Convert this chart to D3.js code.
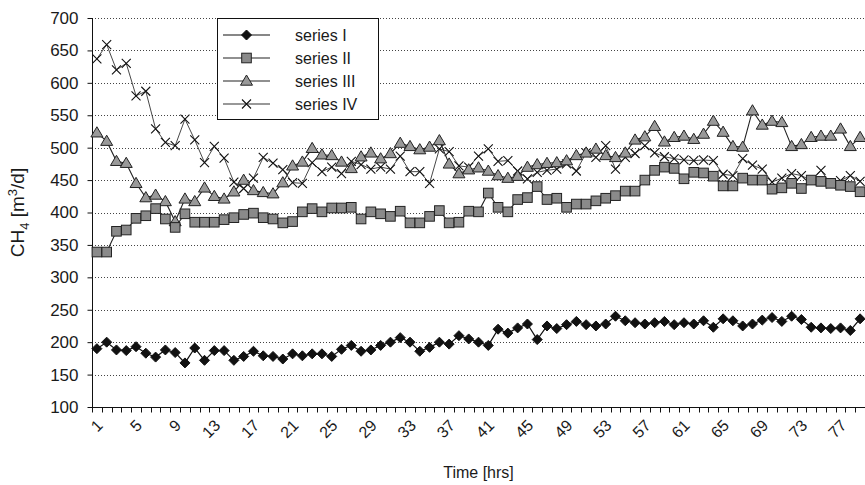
<!DOCTYPE html>
<html><head><meta charset="utf-8">
<script src="https://cdn.jsdelivr.net/npm/d3@7"></script>
<style>body{margin:0;background:#fff;} svg text{font-family:"Liberation Sans",Arial,Helvetica,sans-serif;fill:#1a1a1a;}</style>
</head><body><svg id="c" width="865" height="485"></svg>
<script>
const hours = [1,2,3,4,5,6,7,8,9,10,11,12,13,14,15,16,17,18,19,20,21,22,23,24,25,26,27,28,29,30,31,32,33,34,35,36,37,38,39,40,41,42,43,44,45,46,47,48,49,50,51,52,53,54,55,56,57,58,59,60,61,62,63,64,65,66,67,68,69,70,71,72,73,74,75,76,77,78,79];
const xTickLabels = [1,5,9,13,17,21,25,29,33,37,41,45,49,53,57,61,65,69,73,77];
const yTicks = [100,150,200,250,300,350,400,450,500,550,600,650,700];
const seriesNames = ["series I","series II","series III","series IV"];
const seriesI = [190,200,188,187,193,183,177,188,184,168,191,172,187,187,172,178,186,179,178,174,182,179,182,182,178,189,195,186,188,195,200,207,200,186,192,200,197,210,205,200,195,220,214,222,228,204,225,221,227,232,227,225,228,240,233,230,228,230,232,227,230,228,233,223,236,233,225,228,234,238,232,240,235,223,222,221,222,218,236];
const seriesII = [339,339,371,373,391,395,406,390,377,398,385,385,385,389,392,397,399,392,390,384,386,401,406,401,407,407,408,390,401,398,394,402,384,384,394,403,384,385,402,401,430,408,401,420,423,440,420,422,408,413,413,418,422,426,433,433,450,465,470,468,452,462,461,456,441,441,453,450,450,436,438,445,437,450,448,445,442,440,432];
const seriesIII = [523,510,479,476,445,423,427,417,386,421,417,438,425,421,432,450,434,431,429,446,472,478,499,489,488,478,468,486,492,483,491,507,502,497,501,511,475,460,466,469,464,457,453,456,470,474,476,477,480,488,492,498,488,485,492,512,517,533,509,516,518,513,521,541,524,502,501,557,535,541,539,502,505,516,518,518,529,502,516];
const seriesIV = [637,659,620,630,580,587,529,508,503,544,512,477,502,484,447,437,453,485,476,466,446,445,477,463,470,460,479,474,467,470,467,487,463,463,445,498,494,472,470,487,498,479,480,464,452,462,465,467,475,464,492,485,503,467,485,491,503,492,486,483,481,480,481,480,459,457,483,473,467,447,453,460,457,449,465,444,449,457,448];

const allSeries = [seriesI, seriesII, seriesIII, seriesIV];
const svg = d3.select("#c");
const M = {left:92, right:865, top:18, bottom:407};

const x = d3.scaleBand().domain(hours).range([M.left, M.right]).padding(0);
const y = d3.scaleLinear().domain([100,700]).range([M.bottom, M.top]);
const cx = h => x(h) + x.bandwidth()/2;

// gridlines
svg.append("g").selectAll("line").data(yTicks.filter(v => v > 100)).join("line")
  .attr("x1", M.left).attr("x2", M.right)
  .attr("y1", d => Math.round(y(d))+0.5).attr("y2", d => Math.round(y(d))+0.5)
  .attr("stroke", "#444").attr("stroke-width", 1).attr("stroke-dasharray", "1,2");

// y axis
const yAxis = svg.append("g").attr("transform", `translate(${M.left+0.5},0)`)
  .call(d3.axisLeft(y).tickValues(yTicks).tickSize(5).tickPadding(9));
yAxis.select(".domain").attr("stroke", "#111").attr("d", `M0,${M.top}V${M.bottom}`);
yAxis.selectAll(".tick line").attr("stroke", "#111");
yAxis.selectAll("text").style("font-size", "17px").attr("fill", "#1a1a1a");

// x axis
const xg = svg.append("g").attr("transform", `translate(0,${M.bottom+0.5})`);
xg.append("line").attr("x1", M.left).attr("x2", M.right).attr("stroke", "#111");
const boundaries = hours.map(h => x(h)).concat([x(hours[hours.length-1]) + x.bandwidth()]);
xg.selectAll("line.tk").data(boundaries).join("line").attr("class","tk")
  .attr("x1", d => Math.round(d)+0.5).attr("x2", d => Math.round(d)+0.5)
  .attr("y1", 0).attr("y2", 5).attr("stroke", "#111");
xg.selectAll("text").data(xTickLabels).join("text")
  .attr("transform", d => `translate(${cx(d)-1},${11}) rotate(-45)`)
  .attr("text-anchor", "end").attr("dy", "0.7em")
  .style("font-size", "16px").text(d => d);

// axis titles
svg.append("text").attr("x", (M.left+M.right)/2).attr("y", 478)
  .attr("text-anchor", "middle").style("font-size", "16px").text("Time [hrs]");
const yt = svg.append("text").attr("transform", `translate(24,${(M.top+M.bottom)/2}) rotate(-90)`)
  .attr("text-anchor", "middle").style("font-size", "19px");
yt.append("tspan").text("CH");
yt.append("tspan").attr("dy", 5).style("font-size", "13px").text("4");
yt.append("tspan").attr("dy", -5).text(" [m");
yt.append("tspan").attr("dy", -7).style("font-size", "13px").text("3");
yt.append("tspan").attr("dy", 7).text("/d]");

// markers
function marker(g, type) {
  if (type === 0) {
    g.append("path").attr("d", "M0,-5L5,0L0,5L-5,0Z").attr("fill", "#111").attr("stroke", "#111");
  } else if (type === 1) {
    g.append("rect").attr("x", -4.8).attr("y", -4.8).attr("width", 9.6).attr("height", 9.6)
      .attr("fill", "#8a8a8a").attr("stroke", "#222").attr("stroke-width", 1);
  } else if (type === 2) {
    g.append("path").attr("d", "M0,-6L6,4.2L-6,4.2Z")
      .attr("fill", "#999").attr("stroke", "#222").attr("stroke-width", 1);
  } else {
    g.append("path").attr("d", "M-4.5,-4.5L4.5,4.5M-4.5,4.5L4.5,-4.5")
      .attr("fill", "none").attr("stroke", "#111").attr("stroke-width", 1.1);
  }
}
const lineColors = ["#111", "#222", "#222", "#333"];
const lineWidths = [1.2, 1.1, 1.1, 0.9];

// draw series in order (IV underneath, then III, II, I)
[3,2,1,0].forEach(si => {
  const data = allSeries[si];
  const line = d3.line().x((d,i) => cx(hours[i])).y(d => y(d));
  svg.append("path").datum(data).attr("d", line)
    .attr("fill", "none").attr("stroke", lineColors[si]).attr("stroke-width", lineWidths[si]);
  const g = svg.append("g");
  data.forEach((v,i) => {
    const mg = g.append("g").attr("transform", `translate(${cx(hours[i])},${y(v)})`);
    marker(mg, si);
  });
});

// legend
const lg = svg.append("g");
lg.append("rect").attr("x", 217.5).attr("y", 18.5).attr("width", 161).attr("height", 101)
  .attr("fill", "#fff").attr("stroke", "#111");
seriesNames.forEach((name, i) => {
  const ly = 35 + i*23;
  lg.append("line").attr("x1", 223).attr("x2", 270).attr("y1", ly).attr("y2", ly)
    .attr("stroke", lineColors[i]).attr("stroke-width", 1.1);
  marker(lg.append("g").attr("transform", `translate(246.5,${ly})`), i);
  lg.append("text").attr("x", 295).attr("y", ly + 6).style("font-size", "16px").text(name);
});
</script></body></html>
